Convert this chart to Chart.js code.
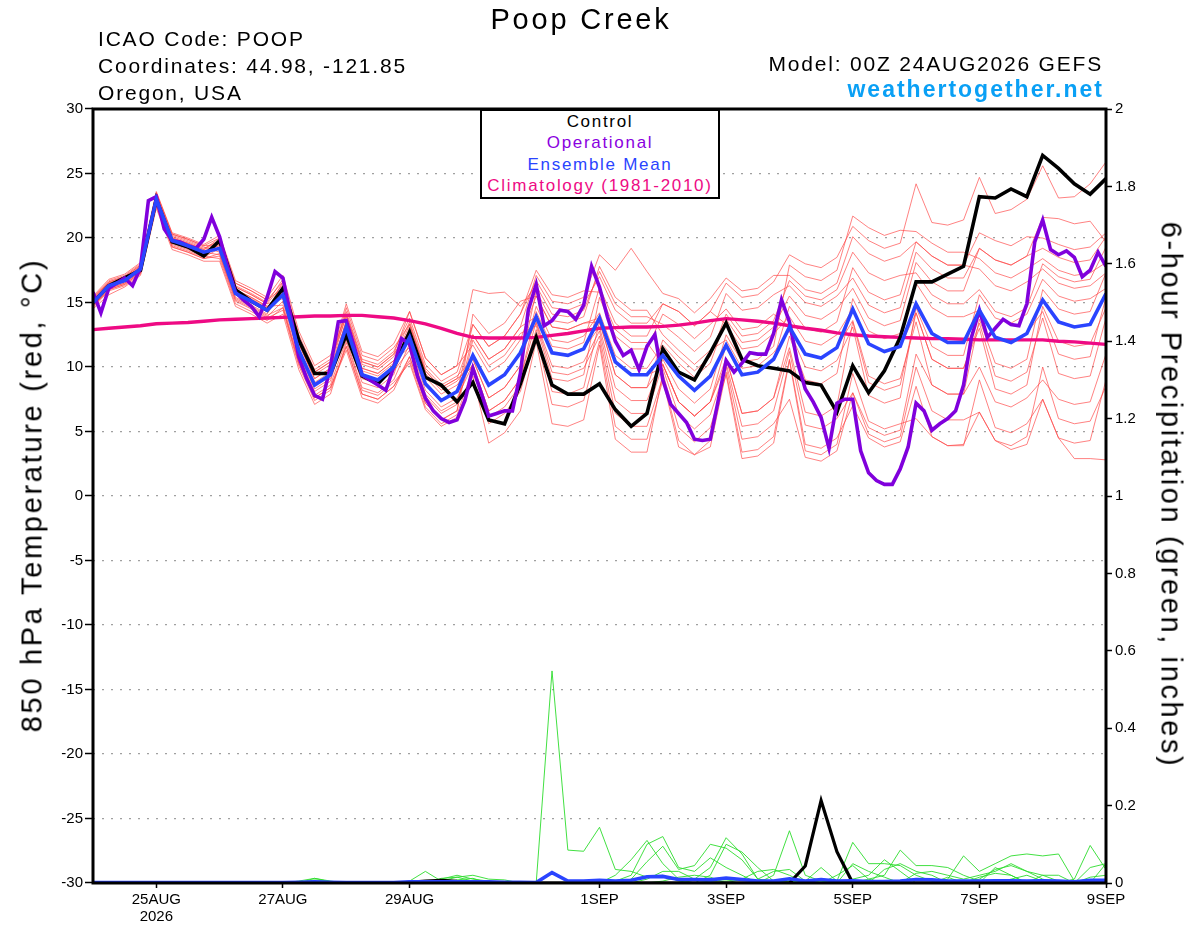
<!DOCTYPE html>
<html><head><meta charset="utf-8">
<script src="https://cdn.jsdelivr.net/npm/chart.js@4.4.1/dist/chart.umd.min.js"></script>
<style>
body{margin:0;background:#fff;}
#wrap{position:relative;width:1200px;height:927px;overflow:hidden;font-family:"Liberation Sans",Arial,Helvetica,sans-serif;background:#fff;}
canvas{position:absolute;left:0;top:0;}
.t{position:absolute;white-space:nowrap;line-height:1;color:#000;}
#legend{position:absolute;left:480px;top:109px;width:240px;height:90px;box-sizing:border-box;border:2px solid #000;background:#fff;text-align:center;font-size:17px;letter-spacing:1.7px;padding-top:0;}
#legend div{line-height:21.3px;white-space:nowrap;}
</style></head><body>
<div id="wrap">
<canvas id="c" width="1200" height="927"></canvas>
<div class="t" style="left:581px;top:5px;font-size:29px;letter-spacing:2.8px;transform:translateX(-50%);">Poop Creek</div>
<div class="t" style="left:98px;top:28px;font-size:21px;letter-spacing:1.8px;">ICAO Code: POOP</div>
<div class="t" style="left:98px;top:55px;font-size:21px;letter-spacing:1.8px;">Coordinates: 44.98, -121.85</div>
<div class="t" style="left:98px;top:82px;font-size:21px;letter-spacing:1.8px;">Oregon, USA</div>
<div class="t" style="right:97px;top:53px;font-size:21px;letter-spacing:1.8px;">Model: 00Z 24AUG2026 GEFS</div>
<div class="t" style="right:96px;top:78px;font-size:23px;font-weight:bold;letter-spacing:2px;color:#0aa0f5;">weathertogether.net</div>
<div class="t" style="left:32px;top:495px;font-size:29px;letter-spacing:2.7px;transform:translate(-50%,-50%) rotate(-90deg);">850 hPa Temperature (red, °C)</div>
<div class="t" style="left:1171px;top:495px;font-size:29px;letter-spacing:2.6px;transform:translate(-50%,-50%) rotate(90deg);">6-hour Precipitation (green, inches)</div>
<div id="legend">
<div style="color:#000;">Control</div>
<div style="color:#8a00e0;">Operational</div>
<div style="color:#2a44ff;">Ensemble Mean</div>
<div style="color:#ee0a84;">Climatology (1981-2010)</div>
</div>
</div>
<script>
// ---- axis ticks ----
const tickHours = [24, 72, 120, 192, 240, 288, 336, 384];
const tickLabels = [['25AUG', '2026'], '27AUG', '29AUG', '1SEP', '3SEP', '5SEP', '7SEP', '9SEP'];

// ---- 850 hPa temperature (6-hourly, 00Z 24AUG .. 00Z 9SEP) ----
const controlTemp = [15.0,16.3,16.9,17.5, 23.0,19.7,19.3,18.6, 19.8,16.0,15.1,14.4, 16.1,12.1,9.5,9.5, 12.5,9.3,8.7,10.0, 12.7,9.2,8.6,7.3, 8.8,5.9,5.6,8.7, 12.3,8.6,7.9,7.9, 8.7,6.7,5.4,6.4, 11.4,9.6,9.0,11.1, 13.4,10.6,10.1,9.9, 9.7,8.8,8.6,6.5, 10.1,8.0,9.7,12.3, 16.6,16.6,17.2,17.8, 23.2,23.1,23.8,23.2, 26.4,25.4,24.2,23.4, 24.6];
const meanTemp = [15.0,16.3,16.7,17.6, 23.0,19.8,19.4,18.9, 19.2,15.7,15.1,14.4, 15.6,11.3,8.6,9.4, 13.1,9.4,9.0,10.0, 12.3,8.7,7.4,8.1, 10.9,8.6,9.4,11.1, 13.9,11.1,10.9,11.4, 13.8,10.4,9.4,9.4, 10.9,9.3,8.2,9.3, 11.7,9.4,9.6,10.6, 13.1,11.0,10.7,11.5, 14.5,11.8,11.2,11.6, 14.9,12.6,11.9,11.9, 14.4,12.3,11.9,12.6, 15.2,13.5,13.1,13.3, 15.7];
const climTemp = [12.9,13.0,13.1,13.2, 13.35,13.4,13.45,13.55, 13.65,13.7,13.75,13.8, 13.85,13.9,13.95,13.95, 14.0,14.0,13.9,13.8, 13.6,13.35,13.0,12.6, 12.3,12.25,12.25,12.25, 12.3,12.45,12.6,12.8, 13.0,13.05,13.1,13.1, 13.15,13.25,13.4,13.6, 13.75,13.65,13.55,13.4, 13.2,13.0,12.85,12.65, 12.5,12.4,12.35,12.3, 12.25,12.2,12.2,12.15, 12.1,12.1,12.1,12.1, 12.1,12.0,11.95,11.85, 11.75];
// operational run, 3-hourly
const operTemp = [15.8,14.2,16.1,16.5,16.9,16.3,17.7,22.9, 23.2,20.7,19.8,19.7,19.4,19.2,19.9,21.6, 20.1,17.8,15.8,15.2,14.7,13.9,15.4,17.4, 16.9,13.9,10.8,9.1,7.8,7.5,10.0,13.5, 13.6,11.6,9.4,9.0,8.6,8.2,10.0,12.2, 11.8,9.3,7.6,6.6,6.0,5.7,5.9,7.4, 9.9,8.1,6.2,6.4,6.6,6.6,9.5,14.4, 16.4,13.2,13.6,14.4,14.3,13.7,14.8,17.8, 16.2,13.9,12.0,10.9,11.3,9.8,11.6,12.5, 9.0,7.1,6.4,5.7,4.4,4.3,4.4,7.4, 10.5,9.6,10.3,11.1,11.0,11.0,12.6,15.2, 13.5,10.4,8.3,7.3,6.1,3.7,7.2,7.5, 7.5,3.5,1.8,1.2,0.9,0.9,2.1,3.8, 7.2,6.6,5.1,5.6,6.0,6.6,8.6,12.3, 14.4,12.3,13.0,13.7,13.3,13.2,14.9,19.7, 21.4,19.1,18.7,19.0,18.5,17.0,17.5,18.9, 17.8];
// ensemble members
const mem01 = [15.3,16.6,17.0,17.9, 23.5,20.3,19.9,19.4, 20.0,16.5,15.9,15.2, 16.6,12.3,9.6,10.4, 14.3,10.6,10.2,11.2, 13.8,10.2,8.9,9.6, 13.3,11.6,12.4,14.1, 16.7,14.6,14.4,14.9, 17.0,14.4,13.4,13.4, 14.9,14.3,13.2,14.3, 16.5,15.4,15.6,16.6, 18.7,18.0,17.7,18.5, 20.9,19.8,19.2,19.6, 24.2,21.2,21.0,21.4, 24.7,21.9,22.2,23.0, 25.6,23.1,23.2,24.2, 25.9];
const mem02 = [14.7,16.0,16.4,17.3, 22.5,19.3,18.9,18.4, 18.6,15.1,14.5,13.8, 14.4,10.1,7.4,8.2, 11.6,7.9,7.5,8.5, 10.5,6.9,5.6,6.3, 9.9,5.6,6.4,8.1, 12.5,7.1,6.9,7.4, 12.0,5.4,4.4,4.4, 9.0,3.8,3.2,3.8, 9.6,3.4,3.6,4.6, 10.6,4.0,3.7,4.5, 7.0,4.5,3.8,4.2, 8.5,4.6,3.9,4.0, 6.5,4.3,3.6,4.0, 7.5,4.5,2.9,2.9, 2.8];
const mem03 = [15.5,16.8,17.2,18.1, 23.6,20.4,20.0,19.5, 20.2,16.7,16.1,15.4, 17.1,12.8,10.1,10.9, 14.1,10.4,10.0,11.0, 14.3,10.7,9.4,10.1, 16.0,15.7,15.8,14.7, 16.3,14.1,13.9,14.4, 17.4,14.9,13.9,13.9, 13.3,12.3,11.2,12.3, 15.7,14.4,14.6,15.6, 16.3,15.0,14.7,15.5, 16.9,14.8,14.2,14.6, 18.9,17.6,16.9,16.9, 19.2,18.3,17.9,18.6, 19.2,18.5,18.1,18.3, 20.1];
const mem04 = [14.5,15.6,16.2,17.1, 22.3,19.1,18.7,18.2, 18.2,14.7,14.1,13.4, 14.1,9.8,7.1,7.9, 11.9,8.2,7.8,8.8, 10.3,6.7,5.4,6.1, 9.3,4.1,4.9,6.6, 12.0,5.6,5.4,5.9, 11.7,4.4,3.4,3.4, 9.5,5.3,4.2,5.3, 9.4,2.9,3.1,4.1, 10.5,3.5,3.2,4.0, 9.5,5.8,5.2,5.6, 6.0,4.6,3.9,3.9, 9.0,5.3,4.9,5.6, 7.5,4.5,4.1,4.3, 9.0];
const mem05 = [15.0,16.3,16.7,17.6, 23.2,20.0,19.6,19.1, 19.7,16.2,15.6,14.9, 16.4,12.1,9.4,10.2, 14.6,10.9,10.5,11.5, 13.3,9.7,8.4,9.1, 12.5,10.6,11.4,13.1, 17.1,15.1,14.9,15.4, 18.7,17.5,19.2,17.4, 15.7,15.3,14.2,15.3, 16.9,15.9,16.1,17.1, 17.1,16.0,15.7,16.5, 20.1,18.8,18.2,18.6, 19.7,18.6,17.9,17.9, 17.6,16.3,15.9,16.6, 17.6,16.5,16.1,16.3, 17.3];
const mem06 = [15.2,16.5,16.9,17.8, 22.8,19.6,19.2,18.7, 19.5,16.0,15.4,14.7, 14.8,10.5,7.8,8.6, 12.1,8.4,8.0,9.0, 11.8,8.2,6.9,7.6, 10.2,6.6,7.4,9.1, 13.5,10.1,9.9,10.4, 12.8,7.4,6.4,6.4, 10.2,7.3,6.2,7.3, 11.7,9.4,9.6,10.6, 14.7,13.0,12.7,13.5, 17.7,15.8,15.2,15.6, 19.7,18.6,17.9,17.9, 20.4,19.8,19.4,20.1, 20.0,19.5,19.1,19.3, 20.4];
const mem07 = [14.8,16.1,16.5,17.4, 23.4,20.2,19.8,19.3, 18.9,15.4,14.8,14.1, 16.1,11.8,9.1,9.9, 13.4,9.7,9.3,10.3, 13.3,9.7,8.4,9.1, 10.0,6.1,6.9,8.6, 12.9,8.1,7.9,8.4, 13.5,9.4,8.4,8.4, 12.1,10.8,9.7,10.8, 14.1,12.4,12.6,13.6, 16.7,15.5,15.2,16.0, 18.9,17.3,16.7,17.1, 17.3,15.6,14.9,14.9, 16.0,14.3,13.9,14.6, 18.0,17.0,16.6,16.8, 19.3];
const mem08 = [15.4,16.7,17.1,18.0, 23.3,20.1,19.7,19.2, 19.8,16.3,15.7,15.0, 16.8,12.5,9.8,10.6, 14.9,11.2,10.8,11.8, 14.3,10.7,9.4,10.1, 11.7,9.6,10.4,12.1, 15.5,13.1,12.9,13.4, 13.5,9.4,8.4,8.4, 10.2,7.3,6.2,7.3, 10.7,6.4,6.6,7.6, 11.5,6.5,6.2,7.0, 13.5,8.8,8.2,8.6, 14.2,10.6,9.9,9.9, 13.0,8.3,7.9,8.6, 14.7,12.0,11.6,11.8, 14.6];
const mem09 = [14.6,15.9,16.3,17.2, 22.7,19.5,19.1,18.6, 18.4,14.9,14.3,13.6, 14.6,10.3,7.6,8.4, 11.6,7.9,7.5,8.5, 10.8,7.2,5.9,6.6, 12.1,10.1,10.9,12.6, 13.2,9.1,8.9,9.4, 15.4,12.4,11.4,11.4, 14.1,13.3,12.2,13.3, 14.5,12.9,13.1,14.1, 13.1,11.0,10.7,11.5, 13.6,9.3,8.7,9.1, 13.5,8.6,7.9,7.9, 10.0,7.3,6.9,7.6, 9.0,7.5,7.1,7.3, 11.0];
const mem10 = [15.1,16.4,16.8,17.7, 23.1,19.9,19.5,19.0, 19.4,15.9,15.3,14.6, 15.8,11.5,8.8,9.6, 13.6,9.9,9.5,10.5, 12.3,8.7,7.4,8.1, 13.3,11.6,12.4,14.1, 17.5,15.6,15.4,15.9, 15.8,12.9,11.9,11.9, 10.2,7.3,6.2,7.3, 10.3,5.4,5.6,6.6, 11.2,5.5,5.2,6.0, 8.0,5.3,4.7,5.1, 11.0,8.6,7.9,7.9, 13.7,10.3,9.9,10.6, 16.0,14.5,14.1,14.3, 17.3];
const mem11 = [14.9,16.2,16.6,17.5, 22.6,19.4,19.0,18.5, 19.2,15.7,15.1,14.4, 16.6,12.3,9.6,10.4, 13.9,10.2,9.8,10.8, 13.5,9.9,8.6,9.3, 10.6,7.6,8.4,10.1, 14.7,12.1,11.9,12.4, 14.2,10.9,9.9,9.9, 11.7,10.3,9.2,10.3, 13.7,11.9,12.1,13.1, 15.5,14.0,13.7,14.5, 16.1,13.8,13.2,13.6, 18.1,16.6,15.9,15.9, 19.2,18.3,17.9,18.6, 21.6,21.5,21.1,21.3, 19.7];
const mem12 = [15.3,16.6,17.0,17.9, 23.0,19.8,19.4,18.9, 18.7,15.2,14.6,13.9, 15.1,10.8,8.1,8.9, 12.8,9.1,8.7,9.7, 11.3,7.7,6.4,7.1, 12.5,10.6,11.4,13.1, 13.9,11.1,10.9,11.4, 13.1,8.4,7.4,7.4, 10.6,8.3,7.2,8.3, 12.5,10.4,10.6,11.6, 17.9,17.0,16.7,17.5, 21.7,20.8,20.2,20.6, 20.5,19.6,18.9,18.9, 18.4,17.3,16.9,17.6, 18.4,17.5,17.1,17.3, 18.1];
const mem13 = [14.7,16.0,16.4,17.3, 23.2,20.0,19.6,19.1, 20.0,16.5,15.9,15.2, 16.1,11.8,9.1,9.9, 14.1,10.4,10.0,11.0, 12.8,9.2,7.9,8.6, 10.2,6.6,7.4,9.1, 14.3,11.6,11.4,11.9, 16.2,13.4,12.4,12.4, 14.9,14.3,13.2,14.3, 13.3,11.4,11.6,12.6, 13.9,12.0,11.7,12.5, 14.5,11.8,11.2,11.6, 14.2,10.6,9.9,9.9, 13.4,9.3,8.9,9.6, 13.8,9.5,9.1,9.3, 13.8];
const mem14 = [15.2,16.5,16.9,17.8, 22.5,19.3,18.9,18.4, 18.8,15.3,14.7,14.0, 14.6,10.3,7.6,8.4, 11.3,7.6,7.2,8.2, 10.8,7.2,5.9,6.6, 14.1,12.6,13.4,15.1, 15.5,13.1,12.9,13.4, 13.8,10.4,9.4,9.4, 9.9,6.3,5.2,6.3, 10.0,4.4,4.6,5.6, 7.5,3.0,2.7,3.5, 8.0,4.8,4.2,4.6, 10.0,6.6,5.9,5.9, 6.5,4.3,3.9,4.6, 10.0,6.0,5.6,5.8, 8.5];
const mem15 = [14.8,16.1,16.5,17.4, 23.5,20.3,19.9,19.4, 19.5,16.0,15.4,14.7, 15.6,11.3,8.6,9.4, 13.6,9.9,9.5,10.5, 11.5,7.9,6.6,7.3, 10.9,8.6,9.4,11.1, 13.4,9.6,9.4,9.9, 12.4,6.4,5.4,5.4, 9.2,4.3,3.2,4.3, 10.7,6.4,6.6,7.6, 12.4,9.0,8.7,9.5, 15.3,12.8,12.2,12.6, 16.5,14.6,13.9,13.9, 14.4,12.3,11.9,12.6, 14.3,11.0,10.6,10.8, 15.4];
const mem16 = [15.0,16.3,16.7,17.6, 22.9,19.7,19.3,18.8, 19.7,16.2,15.6,14.9, 15.3,11.0,8.3,9.1, 12.5,8.8,8.4,9.4, 13.1,9.5,8.2,8.9, 10.6,7.6,8.4,10.1, 15.9,13.6,13.4,13.9, 17.8,15.4,14.4,14.4, 12.5,11.3,10.2,11.3, 12.1,9.9,10.1,11.1, 12.8,10.0,9.7,10.5, 13.1,7.8,7.2,7.6, 14.6,11.6,10.9,10.9, 15.6,13.8,13.4,14.1, 16.8,15.5,15.1,15.3, 16.1];
const memberTemps = [mem01, mem02, mem03, mem04, mem05, mem06, mem07, mem08, mem09, mem10, mem11, mem12, mem13, mem14, mem15, mem16];

// ---- 6-hour precipitation (inches) ----
const controlPrecip = [0,0,0,0,0,0,0,0, 0,0,0,0,0,0,0,0, 0,0,0,0,0.002,0.005,0.007,0.004, 0.003,0,0,0,0,0,0,0, 0,0,0,0,0,0,0,0, 0,0,0,0,0,0.044,0.213,0.081, 0,0,0,0,0,0,0,0, 0,0,0,0,0,0,0,0, 0];
const meanPrecip = [0.001,0.001,0.001,0.001,0.001,0.001,0.001,0.001, 0.001,0.001,0.001,0.001,0.001,0.002,0.003,0.002, 0.001,0.001,0.001,0.001,0.003,0.003,0.003,0.003, 0.003,0.003,0.002,0.002,0.001,0.027,0.005,0.005, 0.007,0.005,0.007,0.016,0.017,0.009,0.009,0.008, 0.013,0.009,0.005,0.005,0.011,0.005,0.009,0.005, 0.006,0.004,0.004,0.005,0.009,0.008,0.005,0.005, 0.005,0.006,0.006,0.005,0.006,0.005,0.003,0.007, 0.007];
const precip01 = [0,0,0,0,0,0,0,0, 0,0,0,0,0,0.005,0.012,0.003, 0,0,0,0,0,0,0.01,0.02, 0.01,0.005,0,0,0,0.548,0.085,0.082, 0.144,0.035,0.03,0.015,0.02,0.005,0,0, 0,0.01,0,0,0,0,0,0, 0,0,0,0,0,0,0,0, 0,0,0,0,0,0,0,0, 0];
const precip02 = [0,0,0,0,0,0,0,0, 0,0,0,0,0,0,0.008,0.004, 0,0,0,0,0.005,0.03,0.005,0.015, 0.02,0.01,0.008,0,0,0,0,0, 0,0.02,0.06,0.11,0.05,0.01,0,0.005, 0.005,0.01,0.03,0.035,0.02,0,0.005,0, 0,0.01,0.02,0.085,0.045,0.045,0.04,0.02, 0.005,0,0.01,0.02,0.005,0,0,0, 0.01];
const precip03 = [0,0,0,0,0,0,0,0, 0,0,0,0,0,0,0,0, 0,0,0,0,0,0,0,0.008, 0.012,0,0,0,0,0,0,0, 0,0.005,0.02,0.1,0.12,0.04,0.03,0.065, 0.04,0.02,0,0.02,0.135,0.02,0.005,0, 0.01,0.02,0.06,0.03,0,0,0.01,0.07, 0.03,0.05,0.07,0.075,0.07,0.075,0.005,0, 0.05];
const precip04 = [0,0,0,0,0,0,0,0, 0,0,0,0,0,0,0,0, 0,0,0,0,0,0,0.006,0, 0,0,0,0,0,0,0,0, 0,0,0.01,0.055,0.095,0.035,0.045,0.1, 0.09,0.06,0.01,0.005,0.005,0.005,0.04,0.005, 0.105,0.05,0.05,0.045,0.02,0.005,0,0, 0,0.04,0.02,0,0,0,0.01,0.097, 0.035];
const precip05 = [0,0,0,0,0,0,0,0, 0,0,0,0,0,0,0,0, 0,0,0,0,0,0,0,0, 0,0,0,0,0,0,0,0, 0,0,0,0.01,0.03,0.03,0.01,0.04, 0.117,0.075,0.01,0.03,0.035,0.005,0,0, 0.05,0.03,0.015,0,0.025,0.03,0.02,0.01, 0.02,0.03,0.05,0.03,0.02,0.02,0,0.04, 0.05];
const precip06 = [0,0,0,0,0,0,0,0, 0,0,0,0,0,0,0.012,0.005, 0,0,0,0,0,0,0.012,0.015, 0.005,0,0,0,0,0,0,0, 0,0,0,0,0.005,0.015,0.02,0.015, 0,0,0,0,0.01,0,0,0.02, 0.045,0.01,0,0,0,0,0.015,0, 0.01,0.035,0.045,0.03,0.01,0,0,0, 0];
const precip07 = [0,0,0,0,0,0,0,0, 0,0,0,0,0,0,0,0, 0,0,0,0,0,0,0,0, 0,0,0,0,0,0,0,0, 0,0,0,0,0,0,0,0.02, 0.1,0.08,0.04,0.005,0.005,0,0,0, 0,0,0.035,0.05,0.03,0.02,0,0, 0.015,0.025,0.02,0,0.02,0.005,0,0.015, 0.02];
const memberPrecips = [precip01, precip02, precip03, precip04, precip05, precip06, precip07];

// forecast hour of each value (categories of the time axis)
const hours6 = controlTemp.map((_, i) => i * 6);
const hours3 = operTemp.map((_, i) => i * 3);

const pts = (hrs, vals) => vals.map((v, i) => ({ x: hrs[i], y: v }));
const line = (label, hrs, vals, color, width, axis, order) => ({
  label, data: pts(hrs, vals), borderColor: color, backgroundColor: color,
  borderWidth: width, pointRadius: 0, tension: 0, fill: false, yAxisID: axis, order
});

const datasets = [];
datasets.push(line('Ensemble Mean', hours6, meanTemp, '#2a44ff', 3.6, 'y', 1));
datasets.push(line('Ensemble Mean precip', hours6, meanPrecip, '#2a44ff', 3.6, 'y1', 1));
datasets.push(line('Operational', hours3, operTemp, '#8000dc', 3.6, 'y', 2));
datasets.push(line('Control', hours6, controlTemp, '#000000', 3.6, 'y', 3));
datasets.push(line('Control precip', hours6, controlPrecip, '#000000', 3.2, 'y1', 3));
datasets.push(line('Climatology (1981-2010)', hours6, climTemp, '#ee0a84', 3.4, 'y', 4));
memberPrecips.forEach((m, k) => datasets.push(line('precip member ' + (k + 1), hours6, m, 'rgb(45,220,45)', 0.9, 'y1', 5)));
memberTemps.forEach((m, k) => datasets.push(line('member ' + (k + 1), hours6, m, 'rgba(255,70,70,0.85)', 0.8, 'y', 6)));

const frame = {
  id: 'frame',
  afterDatasetsDraw(chart) {
    const { ctx, chartArea: a } = chart;
    ctx.save();
    ctx.strokeStyle = '#000';
    ctx.lineWidth = 3;
    ctx.strokeRect(a.left, a.top, a.right - a.left, a.bottom - a.top);
    ctx.restore();
  }
};

Chart.defaults.font.family = '"Liberation Sans", Arial, Helvetica, sans-serif';
Chart.defaults.font.size = 15;
Chart.defaults.color = '#000';

new Chart(document.getElementById('c'), {
  type: 'line',
  data: { datasets },
  options: {
    responsive: false, animation: false, devicePixelRatio: 1,
    layout: { padding: { top: 109, left: 0, right: 0, bottom: 0 } },
    plugins: { legend: { display: false }, tooltip: { enabled: false } },
    scales: {
      x: {
        type: 'linear', min: 0, max: 384, position: 'bottom',
        afterBuildTicks: s => { s.ticks = tickHours.map(v => ({ value: v })); },
        afterFit: s => { s.height = 44; },
        ticks: {
          autoSkip: false, maxRotation: 0, padding: 3,
          font: { size: 15, lineHeight: 1.15 },
          callback: v => { const k = tickHours.indexOf(v); return k >= 0 ? tickLabels[k] : ''; }
        },
        grid: { drawOnChartArea: false, drawTicks: true, tickLength: 5, tickColor: '#000', tickWidth: 1.5, tickBorderDash: [1, 0] },
        border: { display: false }
      },
      y: {
        type: 'linear', position: 'left', min: -30, max: 30,
        afterFit: s => { s.width = 93; },
        ticks: { stepSize: 5, padding: 2, font: { size: 15 } },
        grid: { color: '#a0a0a0', lineWidth: 1.2, drawTicks: true, tickLength: 8, tickColor: '#000', tickWidth: 1.5, tickBorderDash: [1, 0] },
        border: { display: false, dash: [2, 7] }
      },
      y1: {
        type: 'linear', position: 'right', min: 0, max: 2,
        afterFit: s => { s.width = 94; },
        ticks: { stepSize: 0.2, padding: 3, font: { size: 15 }, callback: v => String(Math.round(v * 10) / 10) },
        grid: { drawOnChartArea: false, drawTicks: true, tickLength: 6, tickColor: '#000', tickWidth: 1.5, tickBorderDash: [1, 0] },
        border: { display: false }
      }
    }
  },
  plugins: [frame]
});
</script>
</body></html>
